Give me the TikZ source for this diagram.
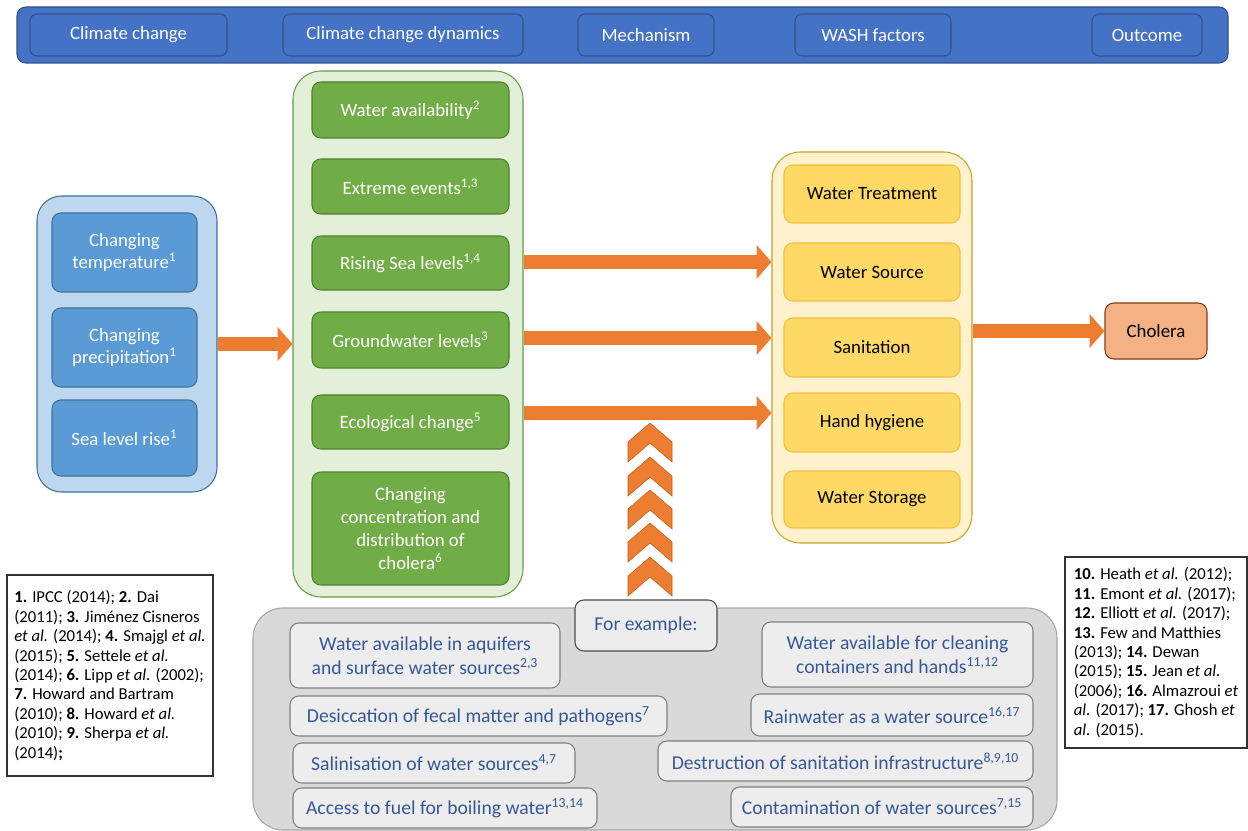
\documentclass[tikz,border=0pt]{standalone}
\usepackage{fontspec}
\setmainfont{Carlito}
\usepackage{tikz}
\usetikzlibrary{arrows.meta}

\definecolor{hdrblue}{HTML}{4472C4}
\definecolor{hdrline}{HTML}{2F528F}
\definecolor{cblue}{HTML}{5B9BD5}
\definecolor{cblueline}{HTML}{41719C}
\definecolor{cbluebg}{HTML}{BDD7EE}
\definecolor{cgreen}{HTML}{70AD47}
\definecolor{cgreenline}{HTML}{507E32}
\definecolor{cgreenbg}{HTML}{E2F0D9}
\definecolor{cgreenout}{HTML}{6A9A47}
\definecolor{cyellow}{HTML}{FFD966}
\definecolor{cyellowline}{HTML}{F2C037}
\definecolor{cyellowbg}{HTML}{FFF2CC}
\definecolor{cyellowout}{HTML}{C9A227}
\definecolor{corange}{HTML}{ED7D31}
\definecolor{corangeline}{HTML}{C55A11}
\definecolor{ccholera}{HTML}{F4B183}
\definecolor{ccholeraline}{HTML}{843C0C}
\definecolor{cgreybg}{HTML}{D9D9D9}
\definecolor{cgreyline}{HTML}{A6A6A6}
\definecolor{cgreybox}{HTML}{EDEDED}
\definecolor{cgreyboxline}{HTML}{7F7F7F}
\definecolor{ctextblue}{HTML}{35589A}

\newcommand{\fsmain}{\fontsize{10.7}{13}\selectfont}
\newcommand{\fsgrey}{\fontsize{11.2}{13.4}\selectfont}
\newcommand{\fsref}{\fontsize{9.5}{11.05}\selectfont}

\tikzset{
  sz/.style 2 args={minimum width=#1*0.02cm, minimum height=#2*0.02cm},
  every node/.style={inner sep=0pt, line width=0.6pt},
  hdrbar/.style={draw=hdrline, fill=hdrblue, rounded corners=5pt},
  hdrbox/.style={draw=hdrline, fill=hdrblue, rounded corners=4pt, text=white, font=\fsmain},
  blueout/.style={draw=cblueline, fill=cbluebg, rounded corners=14pt},
  bluebox/.style={draw=cblueline, fill=cblue, rounded corners=5pt, text=white, font=\fsmain, align=center},
  greenout/.style={draw=cgreenout, fill=cgreenbg, rounded corners=16pt},
  greenbox/.style={draw=cgreenline, fill=cgreen, rounded corners=5pt, text=white, font=\fsmain, align=center},
  yellowout/.style={draw=cyellowout, fill=cyellowbg, rounded corners=16pt},
  yellowbox/.style={draw=cyellowline, fill=cyellow, rounded corners=5pt, text=black, font=\fsmain},
  cholbox/.style={draw=ccholeraline, fill=ccholera, rounded corners=5pt, text=black, font=\fsmain},
  greyout/.style={draw=cgreyline, fill=cgreybg, rounded corners=17pt},
  greybox/.style={draw=cgreyboxline, fill=cgreybox, rounded corners=5pt, text=ctextblue, font=\fsgrey, align=center},
  refbox/.style={draw=black!80, fill=white, line width=0.8pt, font=\fsref, align=left},
  fatarrow/.style={corange, line width=8.5pt, -{Triangle[length=8.5pt,width=19pt]}},
  chev/.style={fill=corange, draw=corangeline, line width=0.3pt}
}

\begin{document}
\begin{tikzpicture}[x=0.02cm, y=-0.02cm]
            \path[use as bounding box, fill=white] (0,0) rectangle (1248,831);

            \node[hdrbar, sz={1211}{56}] (hdr) at (622.5,35) {};
            \node[hdrbox, sz={197}{42}] (cc) at (128.5,35) {Climate change};
            \node[hdrbox, sz={240}{42}] (ccd) at (403,35) {Climate change dynamics};
            \node[hdrbox, sz={136}{42}] (mech) at (646,35) {Mechanism};
            \node[hdrbox, sz={156}{42}] (wash) at (873,35) {WASH factors};
            \node[hdrbox, sz={110}{42}] (outc) at (1147,35) {Outcome};

            \node[blueout, sz={180}{296}] (bout) at (127,344) {};
            \node[bluebox, sz={145}{79}] (temp) at (124.5,252.5) {Changing\\temperature\textsuperscript{1}};
            \node[bluebox, sz={145}{79}] (prec) at (124.5,347.5) {Changing\\precipitation\textsuperscript{1}};
            \node[bluebox, sz={145}{76}] (sea) at (124.5,438) {Sea level rise\textsuperscript{1}};

            \node[greenout, sz={230}{526}] (gout) at (408,334) {};
            \node[greenbox, sz={197}{56}] (wav) at (410.5,110) {Water availability\textsuperscript{2}};
            \node[greenbox, sz={197}{55}] (ext) at (410.5,186.5) {Extreme events\textsuperscript{1,3}};
            \node[greenbox, sz={197}{54}] (rise) at (410.5,263) {Rising Sea levels\textsuperscript{1,4}};
            \node[greenbox, sz={197}{56}] (gw) at (410.5,340) {Groundwater levels\textsuperscript{3}};
            \node[greenbox, sz={197}{54}] (eco) at (410.5,422) {Ecological change\textsuperscript{5}};
            \node[greenbox, sz={197}{113}] (conc) at (410.5,528.5) {Changing\\concentration and\\distribution of\\cholera\textsuperscript{6}};

            \node[yellowout, sz={200}{391}] (yout) at (872,347.5) {};
            \node[yellowbox, sz={176}{58}] (wt) at (872,194) {Water Treatment};
            \node[yellowbox, sz={176}{58}] (ws) at (872,272) {Water Source};
            \node[yellowbox, sz={176}{59}] (san) at (872,347.5) {Sanitation};
            \node[yellowbox, sz={176}{59}] (hh) at (872,422.5) {Hand hygiene};
            \node[yellowbox, sz={176}{57}] (wst) at (872,499.5) {Water Storage};

            \node[cholbox, sz={102}{56}] (chol) at (1156,331) {Cholera};

            \coordinate (lvl1) at (650,262);
            \coordinate (lvl2) at (650,338);
            \coordinate (lvl3) at (650,413);
            \draw[fatarrow] (bout.east) -- (gout.west |- bout.east);
            \draw[fatarrow] (gout.east |- lvl1) -- (yout.west |- lvl1);
            \draw[fatarrow] (gout.east |- lvl2) -- (yout.west |- lvl2);
            \draw[fatarrow] (gout.east |- lvl3) -- (yout.west |- lvl3);
            \draw[fatarrow] (yout.east |- chol.west) -- (chol.west);

            \draw[chev] (650,423) -- (672,442) -- (672,462) -- (650,443) -- (628,462) -- (628,442) -- cycle;
            \draw[chev] (650,457) -- (672,476) -- (672,496) -- (650,477) -- (628,496) -- (628,476) -- cycle;
            \draw[chev] (650,490) -- (672,509) -- (672,529) -- (650,510) -- (628,529) -- (628,509) -- cycle;
            \draw[chev] (650,523) -- (672,542) -- (672,562) -- (650,543) -- (628,562) -- (628,542) -- cycle;
            \draw[chev] (650,557) -- (672,576) -- (672,596) -- (650,577) -- (628,596) -- (628,576) -- cycle;

            \node[greyout, sz={804}{222}] (gout2) at (655,719) {};
            \node[greybox, sz={270}{65}] (aq) at (425,655.5) {Water available in aquifers\\and surface water sources\textsuperscript{2,3}};
            \node[greybox, sz={377}{40}] (des) at (478.5,716) {Desiccation of fecal matter and pathogens\textsuperscript{7}};
            \node[greybox, sz={282}{40}] (sal) at (434,763) {Salinisation of water sources\textsuperscript{4,7}};
            \node[greybox, sz={304}{40}] (fuel) at (445,808) {Access to fuel for boiling water\textsuperscript{13,14}};
            \node[greybox, sz={271}{65}] (clean) at (897.5,654.5) {Water available for cleaning\\containers and hands\textsuperscript{11,12}};
            \node[greybox, sz={282}{42}] (rain) at (892,715) {Rainwater as a water source\textsuperscript{16,17}};
            \node[greybox, sz={375}{40}] (destr) at (845.5,761) {Destruction of sanitation infrastructure\textsuperscript{8,9,10}};
            \node[greybox, sz={302}{40}] (cont) at (882,807) {Contamination of water sources\textsuperscript{7,15}};
            \node[greybox, draw=black!70, sz={142}{51}] (forex) at (646,625.5) {For example:};

            \node[refbox, sz={206}{201}] (refl) at (110,675.5) {\textbf{1.} IPCC (2014); \textbf{2.} Dai\\(2011); \textbf{3.} Jiménez Cisneros\\\textit{et al.} (2014); \textbf{4.} Smajgl \textit{et al.}\\(2015); \textbf{5.} Settele \textit{et al.}\\(2014); \textbf{6.} Lipp \textit{et al.} (2002);\\\textbf{7.} Howard and Bartram\\(2010); \textbf{8.} Howard \textit{et al.}\\(2010); \textbf{9.} Sherpa \textit{et al.}\\(2014)\textbf{;}};
            \node[refbox, sz={182}{191}] (refr) at (1156,652.5) {\textbf{10.} Heath \textit{et al.} (2012);\\\textbf{11.} Emont \textit{et al.} (2017);\\\textbf{12.} Elliott \textit{et al.} (2017);\\\textbf{13.} Few and Matthies\\(2013); \textbf{14.} Dewan\\(2015); \textbf{15.} Jean \textit{et al.}\\(2006); \textbf{16.} Almazroui \textit{et}\\\textit{al.} (2017); \textbf{17.} Ghosh \textit{et}\\\textit{al.} (2015).};
\end{tikzpicture}
\end{document}
